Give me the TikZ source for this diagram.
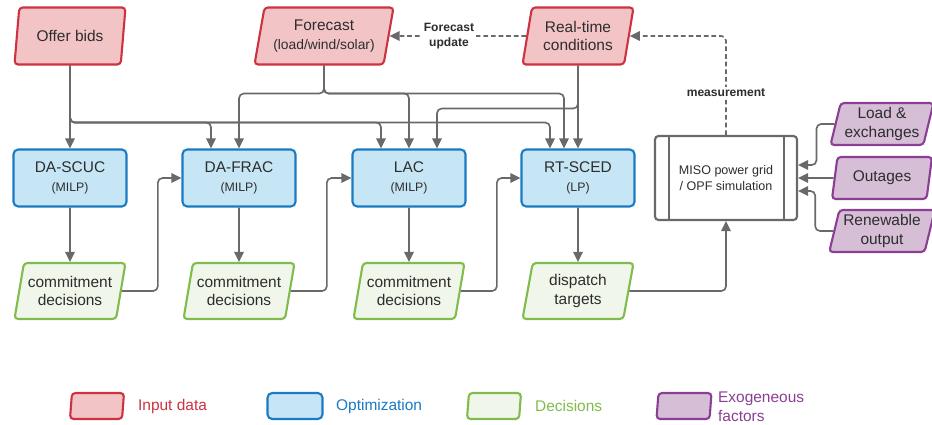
\documentclass[tikz,border=0pt]{standalone}
\usepackage{fontspec}
\setmainfont{Liberation Sans}
\usetikzlibrary{shapes.geometric, arrows.meta}
\definecolor{InRed}{RGB}{205,50,65}
\definecolor{InRedFill}{RGB}{242,196,198}
\definecolor{OptBlue}{RGB}{26,122,194}
\definecolor{OptBlueFill}{RGB}{198,230,246}
\definecolor{DecGreen}{RGB}{128,188,76}
\definecolor{DecGreenFill}{RGB}{240,246,234}
\definecolor{ExoPurple}{RGB}{138,62,148}
\definecolor{ExoPurpleFill}{RGB}{214,190,214}
\definecolor{LnGray}{RGB}{105,105,105}
\definecolor{TxtGray}{RGB}{45,45,45}
\newcommand{\mainfs}{\fontsize{13.2}{16}\selectfont}
\newcommand{\subfs}{\fontsize{10.5}{14}\selectfont}
\newcommand{\simfs}{\fontsize{10.7}{13.5}\selectfont}
\newcommand{\lblfs}{\fontsize{10.3}{12.5}\selectfont}

\begin{document}
\begin{tikzpicture}[x=0.03cm, y=-0.03cm,
          para/.style={trapezium, trapezium left angle=76, trapezium right angle=104,
                       trapezium stretches body, rounded corners=3pt, line width=1.8pt,
                       align=center, text=TxtGray, font=\mainfs},
          inp/.style={para, draw=InRed, fill=InRedFill, minimum width=3.33cm, minimum height=1.71cm},
          dec/.style={para, draw=DecGreen, fill=DecGreenFill, minimum width=3.33cm, minimum height=1.68cm},
          exo/.style={para, draw=ExoPurple, fill=ExoPurpleFill, minimum width=3.0cm, minimum height=1.26cm},
          opt/.style={rectangle, rounded corners=4pt, draw=OptBlue, fill=OptBlueFill, line width=1.8pt,
                      minimum width=3.39cm, minimum height=1.71cm, align=center, text=TxtGray, font=\mainfs},
          sim/.style={rectangle, rounded corners=3pt, draw=LnGray, fill=white, line width=1.8pt,
                      minimum width=4.26cm, minimum height=2.52cm, align=center, text=TxtGray, font=\simfs},
          frame/.style={draw=LnGray, line width=1.8pt},
          arr/.style={-{Triangle[length=8.5pt, width=8pt]}, draw=LnGray, line width=1.4pt, rounded corners=4pt},
          darr/.style={arr, dash pattern=on 4pt off 2.5pt},
          lbl/.style={font=\bfseries\lblfs, text=TxtGray, fill=white, align=center, inner sep=1.5pt},
          leg/.style={anchor=west, font=\mainfs, align=left}
        ]
        \useasboundingbox (0,0) rectangle (932,425);

        % Input data
        \node[inp] (bids) at (70,36) {Offer bids};
        \node[inp, minimum width=4.17cm] (fc) at (324,36)
              {Forecast\\{\fontsize{11.8}{15}\selectfont (load/wind/solar)}};
        \node[inp] (rt) at (578,36) {Real-time\\conditions};

        % Optimization stages
        \node[opt] (scuc) at (70,178)  {DA-SCUC\\{\subfs (MILP)}};
        \node[opt] (frac) at (239,178) {DA-FRAC\\{\subfs (MILP)}};
        \node[opt] (lac)  at (409,178) {LAC\\{\subfs (MILP)}};
        \node[opt] (sced) at (578,178) {RT-SCED\\{\subfs (LP)}};

        % Decisions
        \node[dec] (d1) at (70,291)  {commitment\\decisions};
        \node[dec] (d2) at (239,291) {commitment\\decisions};
        \node[dec] (d3) at (409,291) {commitment\\decisions};
        \node[dec] (d4) at (578,291) {dispatch\\targets};

        % Grid simulation
        \node[sim] (miso) at (726,178) {MISO power grid\\/ OPF simulation};
        \draw[frame] ([xshift=0.45cm]miso.north west) -- ([xshift=0.45cm]miso.south west);
        \draw[frame] ([xshift=-0.42cm]miso.north east) -- ([xshift=-0.42cm]miso.south east);

        % Exogeneous factors
        \node[exo] (load)  at (882,124) {Load \&\\exchanges};
        \node[exo] (outg)  at (882,178) {Outages};
        \node[exo] (renew) at (882,231) {Renewable\\output};

        % inputs -> stages
        \draw[arr] (bids) -- (scuc);
        \foreach \n in {frac, lac, sced} {
          \draw[arr] (bids.south) -- ++(0,57) -| ([xshift=-0.84cm]\n.north);
        }
        \foreach \n/\dx in {frac/0, lac/0, sced/-0.42} {
          \draw[arr] (fc.south) -- ++(0,28) -| ([xshift=\dx cm]\n.north);
        }
        \draw[arr] (rt) -- (sced);
        \draw[arr] (rt.south) -- ++(0,43) -| ([xshift=0.84cm]lac.north);

        % stages -> decisions -> next stage
        \foreach \s/\d in {scuc/d1, frac/d2, lac/d3, sced/d4} {
          \draw[arr] (\s) -- (\d);
        }
        \foreach \a/\b in {d1/frac, d2/lac, d3/sced} {
          \draw[arr] (\a.east) -- ++(36,0) |- (\b.west);
        }
        \draw[arr] (d4.east) -| (miso.south);

        % exogeneous -> grid
        \draw[arr] (load.west) -- ++(-18,0) |- ([yshift=0.39cm]miso.east);
        \draw[arr] (outg.west) -- (miso.east);
        \draw[arr] (renew.west) -- ++(-18,0) |- ([yshift=-0.39cm]miso.east);

        % feedback
        \draw[darr] (miso.north) |- (rt.east);
        \node[lbl] (meas) at (726,93) {measurement};
        \draw[darr] (rt.west) -- (fc.east);
        \node[lbl] (fcupd) at (449,36) {Forecast\\update};

        % Legend
        \node[inp, minimum width=1.62cm, minimum height=0.78cm] (lgin) at (97,406) {};
        \node[leg, text=InRed] (lgintxt) at (134,406) {Input data};
        \node[opt, minimum width=1.65cm, minimum height=0.78cm] (lgopt) at (295,406) {};
        \node[leg, text=OptBlue] (lgopttxt) at (332,406) {Optimization};
        \node[dec, minimum width=1.62cm, minimum height=0.78cm] (lgdec) at (494,406) {};
        \node[leg, text=DecGreen] (lgdectxt) at (531,406) {Decisions};
        \node[exo, minimum width=1.65cm, minimum height=0.78cm] (lgexo) at (684,406) {};
        \node[leg, text=ExoPurple] (lgexotxt) at (714,407) {Exogeneous\\factors};
      \end{tikzpicture}
\end{document}
